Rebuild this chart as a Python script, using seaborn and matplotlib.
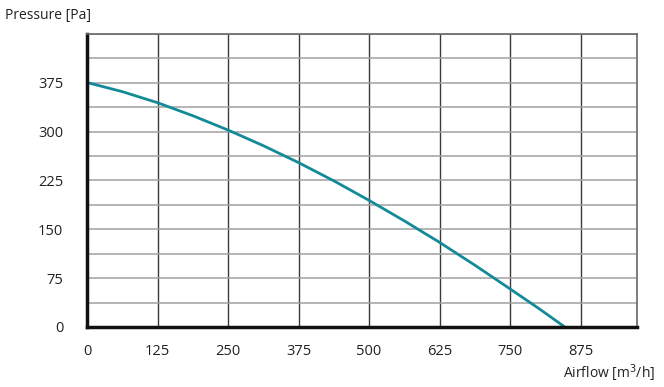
import matplotlib
matplotlib.use("Agg")
import matplotlib.pyplot as plt
from matplotlib.ticker import FixedFormatter
import seaborn as sns
import pandas as pd
import numpy as np

airflow = [0, 62.5, 125, 187.5, 250, 312.5, 375, 437.5, 500, 562.5, 625, 687.5, 750, 800, 847]
pressure = [375.5, 361.5, 344.5, 324.5, 302.5, 278.5, 252.5, 224.5, 194.5, 163, 130, 95, 58.5, 29, 0]
x_ticks = [0, 125, 250, 375, 500, 625, 750, 875]
y_ticks = [0, 75, 150, 225, 300, 375]

sns.set_theme(style="white")
plt.rcParams['font.family'] = ['Open Sans', 'DejaVu Sans']

fig = plt.figure(figsize=(6.64, 3.87), dpi=100)
ax = fig.add_axes([87/664, 1-327/387, (637-87)/664, (327-34)/387])

df = pd.DataFrame({"Airflow": airflow, "Pressure": pressure})
sns.lineplot(data=df, x="Airflow", y="Pressure", ax=ax, color="#138a98", linewidth=2)

ax.set_xlim(0, 975)
ax.set_ylim(0, 450)
ax.set_xticks(x_ticks)
ygrid = np.arange(0, 451, 37.5)
ax.set_yticks(ygrid)
ax.yaxis.set_major_formatter(FixedFormatter([str(int(v)) if v in y_ticks else "" for v in ygrid]))
ax.tick_params(axis='both', which='both', length=0, labelsize=10.5, colors="#222222")
ax.tick_params(axis='y', pad=17)
ax.tick_params(axis='x', pad=12)
ax.grid(axis='y', color="#a0a0a0", linewidth=1.1)
ax.grid(axis='x', color="#3a3a3a", linewidth=1.0)
ax.set_axisbelow(True)
ax.set_xlabel("")
ax.set_ylabel("")

for s in ["top", "right"]:
    ax.spines[s].set_color("#666666")
    ax.spines[s].set_linewidth(1.2)
for s in ["left", "bottom"]:
    ax.spines[s].set_color("#111111")
    ax.spines[s].set_linewidth(2.5)

fig.text(5/664, 1-15/387, "Pressure [Pa]", fontsize=10, va="center", ha="left", color="#222222")
fig.text(655/664, 1-373/387, "Airflow [m$^3$/h]", fontsize=10, va="center", ha="right", color="#222222")

fig.savefig("out.png", dpi=100, facecolor="white")
